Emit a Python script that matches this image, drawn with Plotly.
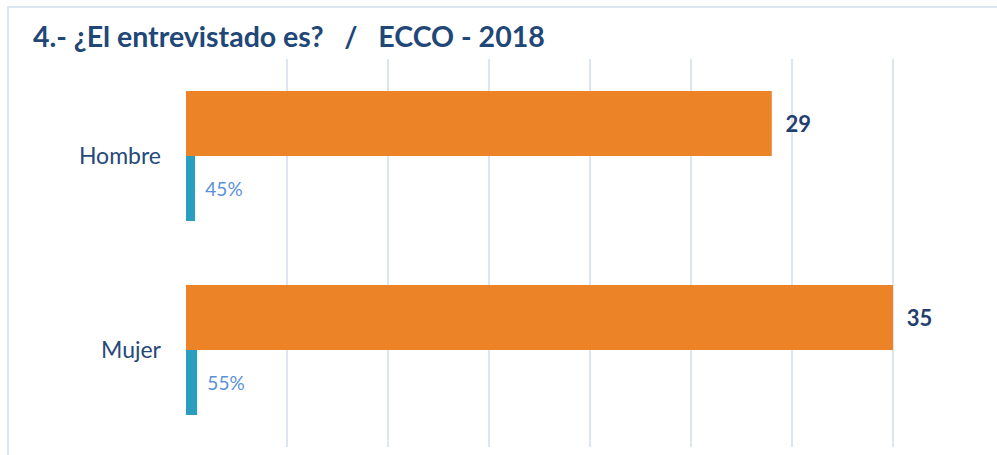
import plotly.graph_objects as go

categories = ["Hombre", "Mujer"]
counts = [29, 35]
shares = [0.45, 0.55]
title_text = "4.- ¿El entrevistado es?   /   ECCO - 2018"

W, H = 997, 455
ml, mr, mt, mb = 186, 3, 59, 8
pw = W - ml - mr

fig = go.Figure()
fig.add_trace(go.Bar(
    y=categories, x=counts, orientation="h", name="Cantidad",
    marker=dict(color="#EC8427", line=dict(width=0)),
    texttemplate="\u00a0\u00a0%{x}", textposition="outside",
    textfont=dict(family="Lato", size=22, color="#1F3F6E", weight="bold"),
    cliponaxis=False,
))
fig.add_trace(go.Bar(
    y=categories, x=shares, orientation="h", name="Porcentaje",
    marker=dict(color="#2A9DC0", line=dict(width=0)),
    texttemplate="\u00a0\u2009%{x:.0%}", textposition="outside",
    textfont=dict(family="Lato", size=19, color="#5B8FD6"),
    cliponaxis=False,
))

fig.update_layout(
    width=W, height=H,
    margin=dict(l=ml, r=mr, t=mt, b=mb),
    barmode="group", bargap=0.33, bargroupgap=0,
    plot_bgcolor="white", paper_bgcolor="white",
    showlegend=False,
    title=dict(text=title_text, xref="container", yref="container",
               x=33 / W, xanchor="left", y=1 - 37 / H, yanchor="middle",
               font=dict(family="Lato", size=28.5, color="#1F4777", weight="bold")),
    xaxis=dict(range=[0, 40], dtick=5, showgrid=True, gridcolor="#DCE5F2",
               gridwidth=1.5, showticklabels=False, zeroline=False, ticks="",
               showline=False),
    yaxis=dict(autorange="reversed", showgrid=False, ticks="", showline=False,
               tickfont=dict(family="Lato", size=23, color="#27497A"),
               ticklabelstandoff=24),
    shapes=[dict(type="rect", xref="paper", yref="paper",
                 x0=(8 - ml) / pw, x1=1.2, y0=-0.2,
                 y1=1 + (mt - 7) / (H - mt - mb),
                 line=dict(color="#DCE5F2", width=2), fillcolor="rgba(0,0,0,0)",
                 layer="below")],
)

fig.write_html("out.html", config={"displayModeBar": False},
               post_script="document.body.style.margin='0';")
